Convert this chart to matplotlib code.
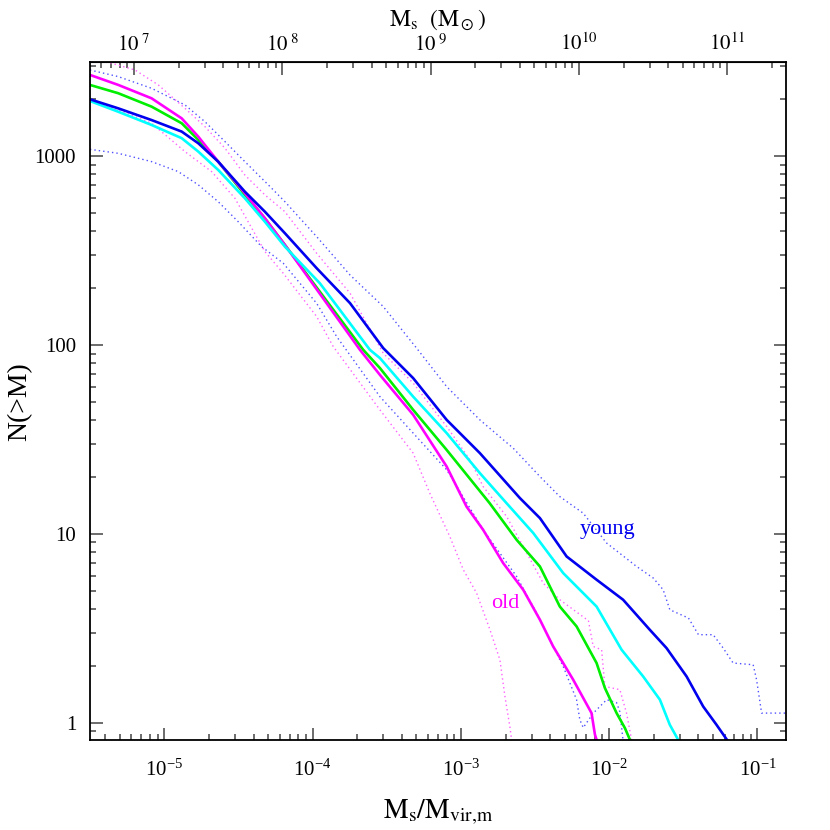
import numpy as np
import matplotlib
matplotlib.use("Agg")
import matplotlib.pyplot as plt
from matplotlib.ticker import FixedLocator, FuncFormatter, LogLocator, NullFormatter

plt.rcParams['font.family'] = ['Liberation Serif', 'DejaVu Serif']
plt.rcParams['mathtext.fontset'] = 'stix'

# values, stored as log10(M_s/M_vir) and log10 N(>M)
blue_lx = [-5.502, -5.311, -5.086, -4.883, -4.771, -4.637, -4.457, -4.322, -4.187, -3.973,
           -3.748, -3.524, -3.322, -3.096, -2.872, -2.602, -2.467, -2.287, -2.085, -1.906,
           -1.726, -1.613, -1.478, -1.366, -1.276, -1.198]
blue_ly = [3.300, 3.252, 3.190, 3.129, 3.067, 2.970, 2.811, 2.705, 2.591, 2.406,
           2.221, 1.983, 1.824, 1.603, 1.427, 1.189, 1.083, 0.880, 0.757, 0.651,
           0.492, 0.395, 0.245, 0.086, -0.011, -0.099]

cyan_lx = [-5.502, -5.311, -5.086, -4.883, -4.771, -4.637, -4.457, -4.322, -4.187, -3.951,
           -3.614, -3.546, -3.322, -3.096, -2.872, -2.692, -2.512, -2.310, -2.085, -1.916,
           -1.771, -1.658, -1.591, -1.535]
cyan_ly = [3.291, 3.234, 3.164, 3.094, 3.023, 2.926, 2.776, 2.652, 2.520, 2.326,
           1.974, 1.930, 1.726, 1.533, 1.321, 1.162, 1.004, 0.792, 0.615, 0.386,
           0.245, 0.122, -0.011, -0.090]

green_lx = [-5.502, -5.311, -5.086, -4.883, -4.771, -4.637, -4.457, -4.322, -4.187, -3.659,
            -3.546, -3.322, -3.096, -2.806, -2.624, -2.467, -2.333, -2.220, -2.085, -2.029,
            -1.950, -1.894, -1.860]
green_ly = [3.376, 3.332, 3.261, 3.173, 3.085, 2.970, 2.794, 2.670, 2.529, 1.974,
            1.877, 1.656, 1.444, 1.162, 0.968, 0.827, 0.615, 0.510, 0.316, 0.184,
            0.051, -0.028, -0.090]

mag_lx = [-5.502, -5.311, -5.086, -4.883, -4.771, -4.637, -4.457, -4.322, -4.187, -3.681,
          -3.546, -3.322, -3.096, -2.962, -2.850, -2.715, -2.580, -2.467, -2.378, -2.243,
          -2.119, -2.096, -2.085]
mag_ly = [3.429, 3.376, 3.305, 3.199, 3.102, 2.970, 2.803, 2.670, 2.529, 1.974,
          1.841, 1.630, 1.356, 1.144, 1.021, 0.845, 0.704, 0.545, 0.404, 0.228,
          0.051, -0.063, -0.090]

# dotted scatter curves
blue_hi_lx = [-5.502, -5.311, -5.086, -4.861, -4.726, -4.591, -4.457, -4.299, -4.187, -3.973,
              -3.748, -3.524, -3.299, -3.096, -2.872, -2.647, -2.467, -2.333, -2.175, -2.017,
              -1.815, -1.703, -1.636, -1.591, -1.465, -1.398, -1.299, -1.231, -1.164, -1.029,
              -1.006, -0.972, -0.804]
blue_hi_ly = [3.455, 3.420, 3.358, 3.270, 3.181, 3.076, 2.970, 2.847, 2.758, 2.573,
              2.370, 2.203, 1.983, 1.779, 1.603, 1.453, 1.303, 1.197, 1.109, 0.951,
              0.827, 0.766, 0.704, 0.598, 0.554, 0.466, 0.466, 0.395, 0.316, 0.307,
              0.228, 0.051, 0.051]

blue_lo_lx = [-5.502, -5.311, -5.086, -4.906, -4.771, -4.637, -4.502, -4.344, -4.198, -3.973,
              -3.838, -3.546, -3.322, -3.096, -2.850, -2.624, -2.489, -2.400, -2.310, -2.220,
              -2.198, -2.175, -2.107, -2.017, -1.950, -1.928, -1.907]
blue_lo_ly = [3.035, 3.014, 2.970, 2.917, 2.847, 2.758, 2.652, 2.520, 2.432, 2.220,
              2.044, 1.726, 1.533, 1.339, 1.021, 0.774, 0.580, 0.439, 0.298, 0.122,
              0.016, -0.026, 0.051, 0.122, 0.106, 0.058, -0.090]

mag_hi_lx = [-5.502, -5.353, -5.198, -5.041, -4.861, -4.726, -4.591, -4.457, -4.322, -4.187,
             -3.973, -3.748, -3.524, -3.322, -3.096, -2.939, -2.850, -2.692, -2.580, -2.445,
             -2.333, -2.140, -2.108, -2.051, -2.029, -1.928, -1.883, -1.849]
mag_hi_ly = [3.540, 3.490, 3.455, 3.376, 3.252, 3.155, 3.041, 2.899, 2.794, 2.705,
             2.485, 2.274, 1.956, 1.798, 1.568, 1.392, 1.250, 1.092, 0.933, 0.739,
             0.651, 0.540, 0.404, 0.386, 0.192, 0.175, 0.051, -0.090]

mag_lo_lx = [-5.502, -5.254, -5.086, -4.861, -4.681, -4.524, -4.322, -4.198, -3.973, -3.861,
             -3.546, -3.322, -3.210, -3.075, -2.984, -2.894, -2.804, -2.737, -2.703, -2.670,
             -2.658]
mag_lo_ly = [3.296, 3.226, 3.173, 3.023, 2.917, 2.776, 2.494, 2.379, 2.150, 1.991,
             1.656, 1.427, 1.215, 0.986, 0.810, 0.686, 0.492, 0.333, 0.139, -0.020,
             -0.090]

mvir = 1.6e12   # conversion of the top axis
top_exps = [7, 8, 9, 10, 11]
left_ticks = [1, 10, 100, 1000]

fig = plt.figure(figsize=(8.3, 8.3), dpi=100)
ax = fig.add_axes([0.1084, 0.1084, 0.8382, 0.8165])

def p(lx, ly):
    return 10 ** np.array(lx), 10 ** np.array(ly)

dot = (0, (1, 2.2))
ax.plot(*p(blue_hi_lx, blue_hi_ly), color='#5050ff', lw=1.0, ls=dot)
ax.plot(*p(blue_lo_lx, blue_lo_ly), color='#5050ff', lw=1.0, ls=dot)
ax.plot(*p(mag_hi_lx, mag_hi_ly), color='#ff60ff', lw=1.0, ls=dot)
ax.plot(*p(mag_lo_lx, mag_lo_ly), color='#ff60ff', lw=1.0, ls=dot)

ax.plot(*p(green_lx, green_ly), color='#00ee00', lw=1.9)
ax.plot(*p(mag_lx, mag_ly), color='#ff00ff', lw=1.9)
ax.plot(*p(cyan_lx, cyan_ly), color='#00ffff', lw=1.9)
ax.plot(*p(blue_lx, blue_ly), color='#0000ee', lw=1.9)

ax.text(0.0098, 10.5, 'young', color='#0000ee', fontsize=16, ha='center', va='center')
ax.text(0.00198, 4.27, 'old', color='#ff00ff', fontsize=16, ha='center', va='center')

ax.set_xscale('log')
ax.set_yscale('log')
ax.set_xlim(3.15e-6, 0.155)
ax.set_ylim(0.81, 3130)

ax.yaxis.set_major_locator(FixedLocator(left_ticks))
ax.yaxis.set_major_formatter(FuncFormatter(lambda v, pos: '%d' % v))
ax.yaxis.set_minor_locator(LogLocator(base=10, subs=np.arange(2, 10)))
ax.yaxis.set_minor_formatter(NullFormatter())
ax.xaxis.set_minor_locator(LogLocator(base=10, subs=np.arange(2, 10), numticks=20))
ax.xaxis.set_minor_formatter(NullFormatter())

ax.tick_params(which='both', direction='in', top=False, right=True, color='#444444', width=1.1)
ax.tick_params(which='major', length=9, labelsize=15, pad=10)
ax.tick_params(which='minor', length=4.5)
ax.tick_params(axis='x', which='major', pad=14)

for s in ax.spines.values():
    s.set_linewidth(1.3)

sec = ax.secondary_xaxis('top', functions=(lambda x: x * mvir, lambda x: x / mvir))
sec.xaxis.set_major_locator(FixedLocator([10.0 ** e for e in top_exps]))
sec.xaxis.set_major_formatter(FuncFormatter(
    lambda v, pos: r'$10^{\ %d}$' % round(np.log10(v)) if np.log10(v) < 9.5 else r'$10^{%d}$' % round(np.log10(v))))
sec.xaxis.set_minor_locator(LogLocator(base=10, subs=np.arange(2, 10), numticks=20))
sec.xaxis.set_minor_formatter(NullFormatter())
sec.tick_params(which='both', direction='in', color='#444444', width=1.1)
sec.tick_params(which='major', length=9, labelsize=15, pad=5)
sec.tick_params(which='minor', length=4.5)
sec.set_xlabel(r'$\mathrm{M_s\ \ (M_\odot)}$', fontsize=17, labelpad=6)

ax.set_xlabel(r'$\mathrm{M_s/M_{vir{,}m}}$', fontsize=20, labelpad=12)
ax.set_ylabel('N(>M)', fontsize=20)
ax.yaxis.set_label_coords(-0.083, 0.5)

fig.savefig('out.png', dpi=100)
